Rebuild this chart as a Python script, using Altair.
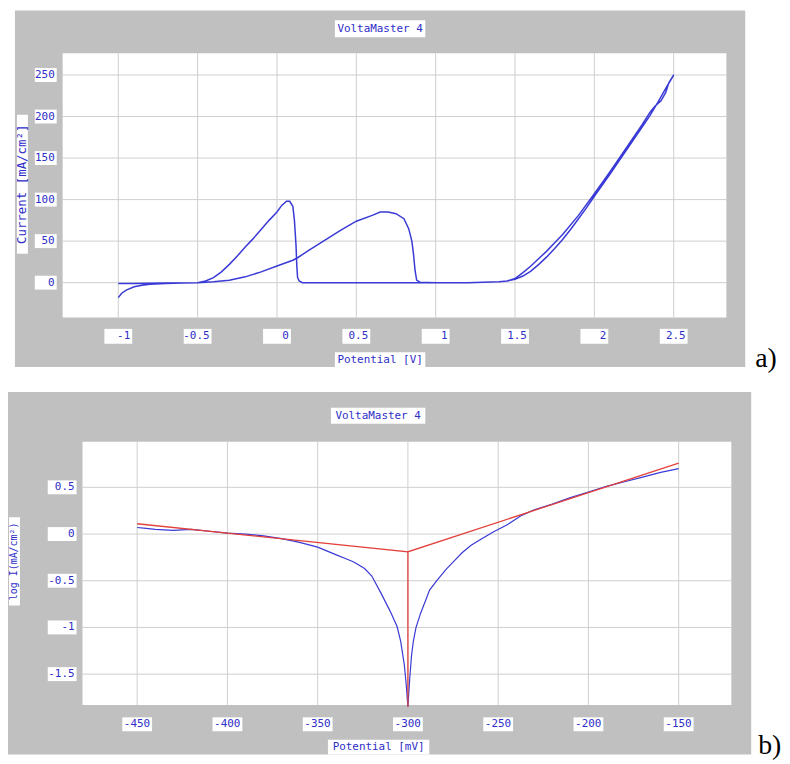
import altair as alt
import pandas as pd

# ---------------- data: panel a) cyclic voltammogram ----------------
cv_potential = [
    -1.0, -0.98, -0.95, -0.9, -0.85, -0.8, -0.7, -0.6, -0.5, -0.45, -0.4, -0.35, -0.3,
    -0.25, -0.2, -0.15, -0.1, -0.05, 0.0, 0.03, 0.06, 0.08, 0.1, 0.11, 0.12, 0.125,
    0.13, 0.14, 0.16, 0.3, 0.6, 0.9, 1.2, 1.4, 1.45, 1.5, 1.55, 1.6, 1.65, 1.7, 1.75,
    1.8, 1.85, 1.9, 1.95, 2.0, 2.1, 2.2, 2.3, 2.35, 2.4, 2.45, 2.5,
    2.47, 2.45, 2.42, 2.38, 2.35, 2.3, 2.2, 2.1, 2.0, 1.9, 1.8, 1.75, 1.7, 1.65, 1.6,
    1.55, 1.5, 1.45, 1.4, 1.2, 1.0, 0.9, 0.88, 0.87, 0.86, 0.85, 0.83, 0.8, 0.75, 0.7,
    0.65, 0.6, 0.5, 0.4, 0.3, 0.2, 0.13, 0.1, 0.0, -0.1, -0.2, -0.3, -0.4, -0.5, -0.7,
    -0.9, -1.0,
]
cv_current = [
    -18, -13, -9, -5, -3, -2, -1, -0.5, 0, 2, 6, 13, 22,
    32, 43, 53, 64, 75, 85, 93, 98, 98, 92, 75, 45, 20,
    6, 2, 0, 0, 0, 0, 0, 1, 2, 4, 8, 14, 22, 31, 41,
    52, 64, 77, 90, 104, 131, 159, 187, 201, 217, 234, 250,
    241, 229, 219, 212, 205, 190, 162, 134, 107, 81, 58, 48, 38, 29, 20,
    12, 5, 2, 1, 0, 0, 0.5, 3, 15, 35, 50, 65, 77, 83, 85,
    85, 81, 74, 63, 51, 39, 30, 27, 20, 13, 7, 3, 1, 0, -0.5,
    -1, -1,
]

# ---------------- data: panel b) Tafel plot ----------------
tafel_potential = [
    -450, -445, -440, -430, -420, -410, -400, -390, -380, -370, -360, -350, -345, -340,
    -335, -330, -324, -320, -315, -310, -306, -304, -302, -301, -300, -299, -298, -297,
    -295.5, -293, -290, -288, -284, -279, -275, -270, -265, -260, -253, -245, -237,
    -230, -220, -210, -200, -190, -180, -170, -160, -150,
]
tafel_logi = [
    0.07, 0.06, 0.05, 0.04, 0.05, 0.03, 0.01, 0.0, -0.02, -0.05, -0.09, -0.14, -0.18, -0.22,
    -0.26, -0.30, -0.37, -0.45, -0.63, -0.82, -0.99, -1.15, -1.4, -1.6, -1.85, -1.55, -1.3, -1.15,
    -1.0, -0.85, -0.7, -0.6, -0.5, -0.38, -0.3, -0.2, -0.12, -0.06, 0.02, 0.1, 0.2,
    0.26, 0.32, 0.39, 0.45, 0.51, 0.56, 0.61, 0.66, 0.70,
]
fit_potential = [-450, -300, -300, -300, -150]
fit_logi = [0.11, -0.19, -1.85, -0.19, 0.76]

# ---------------- ticks & texts ----------------
a_x_ticks = [-1, -0.5, 0, 0.5, 1, 1.5, 2, 2.5]
a_x_labels = ["-1", "-0.5", "0", "0.5", "1", "1.5", "2", "2.5"]
a_y_ticks = [0, 50, 100, 150, 200, 250]
a_y_labels = ["0", "50", "100", "150", "200", "250"]
b_x_ticks = [-450, -400, -350, -300, -250, -200, -150]
b_x_labels = ["-450", "-400", "-350", "-300", "-250", "-200", "-150"]
b_y_ticks = [-1.5, -1, -0.5, 0, 0.5]
b_y_labels = ["-1.5", "-1", "-0.5", "0", "0.5"]

chart_title = "VoltaMaster 4"
a_x_title = "Potential [V]"
a_y_title = "Current [mA/cm²]"
b_x_title = "Potential [mV]"
b_y_title = "log I(mA/cm²)"
a_tag = "a)"
b_tag = "b)"

GRAY = "#c0c0c0"
GRID = "#cfcfcf"
LINE_BLUE = "#3a3ad6"
TEXT_BLUE = "#2e2ec8"
RED = "#e2403a"
FONT = "DejaVu Sans Mono"


def box(x0, x1, y0, y1):
    return alt.Chart(pd.DataFrame({"k": [0]})).mark_rect(color="white").encode(
        x=alt.value(x0), x2=alt.value(x1), y=alt.value(y0), y2=alt.value(y1)
    )


def label(text, x, y, size=11, angle=0, font=FONT, color=TEXT_BLUE, align="center"):
    return alt.Chart(pd.DataFrame({"t": [text]})).mark_text(
        font=font, fontSize=size, color=color, angle=angle, align=align, baseline="middle"
    ).encode(x=alt.value(x), y=alt.value(y), text="t:N")


def panel(W, H, gray, plot, xs, ys, lines, xt, xl, yt, yl, xlab_y, xbox, ylab_x, ybox,
          title_box, xtitle_box, xtitle, ytitle_box, ytitle, ytitle_size, tag, tag_xy):
    gx0, gx1, gy0, gy1 = gray
    px0, px1, py0, py1 = plot
    layers = [
        alt.Chart(pd.DataFrame({"k": [0]})).mark_rect(color=GRAY).encode(
            x=alt.value(gx0), x2=alt.value(gx1), y=alt.value(gy0), y2=alt.value(gy1)),
        box(px0, px1, py0, py1),
    ]
    xdf = pd.DataFrame({"v": xt, "t": xl})
    ydf = pd.DataFrame({"v": yt, "t": yl})
    layers.append(alt.Chart(xdf).mark_rule(color=GRID, strokeWidth=1).encode(
        x=alt.X("v:Q", scale=xs, axis=None), y=alt.value(py0), y2=alt.value(py1)))
    layers.append(alt.Chart(ydf).mark_rule(color=GRID, strokeWidth=1).encode(
        y=alt.Y("v:Q", scale=ys, axis=None), x=alt.value(px0), x2=alt.value(px1)))
    layers += lines
    # x tick label boxes + texts
    layers.append(alt.Chart(xdf).mark_tick(orient="vertical", color="white", opacity=1,
                                           thickness=xbox[0], size=xbox[1]).encode(
        x=alt.X("v:Q", scale=xs, axis=None), y=alt.value(xlab_y)))
    layers.append(alt.Chart(xdf).mark_text(font=FONT, fontSize=11, color=TEXT_BLUE, align="right",
                                           baseline="middle", dx=xbox[0] / 2 - 2).encode(
        x=alt.X("v:Q", scale=xs, axis=None), y=alt.value(xlab_y), text="t:N"))
    # y tick label boxes + texts
    layers.append(alt.Chart(ydf).mark_tick(orient="horizontal", color="white", opacity=1,
                                           thickness=ybox[1], size=ybox[0]).encode(
        y=alt.Y("v:Q", scale=ys, axis=None), x=alt.value(ylab_x)))
    layers.append(alt.Chart(ydf).mark_text(font=FONT, fontSize=11, color=TEXT_BLUE, align="right",
                                           baseline="middle").encode(
        y=alt.Y("v:Q", scale=ys, axis=None), x=alt.value(ylab_x + ybox[0] / 2 - 2), text="t:N"))
    # titles
    tx0, tx1, ty0, ty1 = title_box
    layers += [box(*title_box), label(chart_title, (tx0 + tx1) / 2, (ty0 + ty1) / 2)]
    ax0, ax1, ay0, ay1 = xtitle_box
    layers += [box(*xtitle_box), label(xtitle, (ax0 + ax1) / 2, (ay0 + ay1) / 2)]
    yx0, yx1, yy0, yy1 = ytitle_box
    layers += [box(*ytitle_box),
               label(ytitle, (yx0 + yx1) / 2, (yy0 + yy1) / 2, size=ytitle_size, angle=270)]
    layers.append(alt.Chart(pd.DataFrame({"t": [tag]})).mark_text(
        font="Liberation Serif", fontSize=28, color="black", align="left", baseline="alphabetic"
    ).encode(x=alt.value(tag_xy[0]), y=alt.value(tag_xy[1]), text="t:N"))
    return alt.layer(*layers).properties(width=W, height=H)


# ---------- panel a ----------
xs_a = alt.Scale(domain=[-1, 2.5], range=[111, 670], zero=False, nice=False)
ys_a = alt.Scale(domain=[0, 250], range=[274, 65], zero=False, nice=False)
cv_df = pd.DataFrame({"E": cv_potential, "I": cv_current, "i": range(len(cv_potential))})
cv_line = alt.Chart(cv_df).mark_line(color=LINE_BLUE, strokeWidth=1.5).encode(
    x=alt.X("E:Q", scale=xs_a, axis=None), y=alt.Y("I:Q", scale=ys_a, axis=None), order="i:Q")

top = panel(760, 370, (7, 742, 0, 359), (55, 723, 43, 309), xs_a, ys_a, [cv_line],
            a_x_ticks, a_x_labels, a_y_ticks, a_y_labels, 328, (28, 15), 38, (22, 14),
            (329, 420, 10, 27), (329, 420, 344, 359), a_x_title, (9, 20, 105, 245), a_y_title, 12.5,
            a_tag, (752, 359))

# ---------- panel b ----------
xs_b = alt.Scale(domain=[-450, -150], range=[130, 675], zero=False, nice=False)
ys_b = alt.Scale(domain=[-1.5, 0.5], range=[298, 110], zero=False, nice=False)
tf_df = pd.DataFrame({"E": tafel_potential, "L": tafel_logi, "i": range(len(tafel_potential))})
fit_df = pd.DataFrame({"E": fit_potential, "L": fit_logi, "i": range(len(fit_potential))})
tafel_line = alt.Chart(tf_df).mark_line(color=LINE_BLUE, strokeWidth=1.2).encode(
    x=alt.X("E:Q", scale=xs_b, axis=None), y=alt.Y("L:Q", scale=ys_b, axis=None), order="i:Q")
fit_line = alt.Chart(fit_df).mark_line(color=RED, strokeWidth=1.3).encode(
    x=alt.X("E:Q", scale=xs_b, axis=None), y=alt.Y("L:Q", scale=ys_b, axis=None), order="i:Q")

bottom = panel(760, 379, (0, 748, 14, 379), (75, 728, 64, 329), xs_b, ys_b, [tafel_line, fit_line],
               b_x_ticks, b_x_labels, b_y_ticks, b_y_labels, 348.5, (30, 14), 54.5, (29, 14),
               (325, 420, 30, 46), (322, 424, 364, 379), b_x_title, (1, 12, 140, 229), b_y_title, 10,
               b_tag, (755, 378))

chart = alt.vconcat(top, bottom, spacing=0).properties(padding=0).configure_view(stroke=None)
chart.save("out.html", embed_options={"renderer": "svg", "actions": False})
